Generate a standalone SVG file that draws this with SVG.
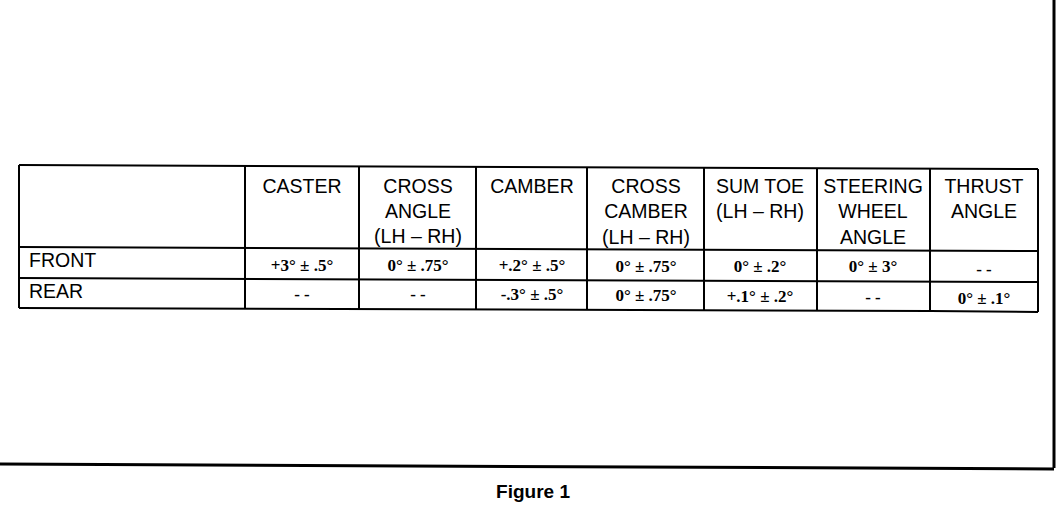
<svg xmlns="http://www.w3.org/2000/svg" width="1056" height="528" viewBox="0 0 1056 528">
<style>
.bg{fill:#fff}
.ln{stroke:#000;stroke-width:2;fill:none}
.fr{stroke:#000;stroke-width:3;fill:none}
.h{font-family:"Liberation Sans",Arial,sans-serif;font-size:19.5px;fill:#000;text-anchor:middle}
.rl{font-family:"Liberation Sans",Arial,sans-serif;font-size:19.5px;fill:#000}
.v{font-family:"Liberation Serif","Times New Roman",serif;font-size:17px;font-weight:bold;fill:#000;text-anchor:middle}
.cap{font-family:"Liberation Sans",Arial,sans-serif;font-size:19px;font-weight:bold;fill:#000;text-anchor:middle}
</style>
<rect class="bg" x="0" y="0" width="1056" height="528"/>
<g id="frame">
<path class="fr" d="M1054 0 L1054 468"/>
<path class="fr" d="M0 464 L1054 469"/>
</g>
<g id="connectors">
<path class="ln" d="M19 165 L1038 169"/>
<path class="ln" d="M19 247 L1038 251"/>
<path class="ln" d="M19 278 L1038 282"/>
<path class="ln" d="M19 308 L930 311"/>
<path class="ln" d="M930 311 L1038 312"/>
<path class="ln" d="M19 165 L19 308"/>
<path class="ln" d="M245 166 L245 309"/>
<path class="ln" d="M359 166 L359 309"/>
<path class="ln" d="M476 167 L476 310"/>
<path class="ln" d="M587 167 L587 310"/>
<path class="ln" d="M704 168 L704 310"/>
<path class="ln" d="M817 168 L817 311"/>
<path class="ln" d="M930 169 L930 312"/>
<path class="ln" d="M1038 169 L1038 312"/>
</g>
<g id="header">
<text class="h" x="302" y="193">CASTER</text>
<text class="h" x="418" y="193">CROSS</text>
<text class="h" x="418" y="218">ANGLE</text>
<text class="h" x="418" y="243">(LH – RH)</text>
<text class="h" x="532" y="193">CAMBER</text>
<text class="h" x="646" y="193">CROSS</text>
<text class="h" x="646" y="218">CAMBER</text>
<text class="h" x="646" y="244">(LH – RH)</text>
<text class="h" x="760" y="193">SUM TOE</text>
<text class="h" x="760" y="218">(LH – RH)</text>
<text class="h" x="873" y="193">STEERING</text>
<text class="h" x="873" y="218">WHEEL</text>
<text class="h" x="873" y="244">ANGLE</text>
<text class="h" x="984" y="193">THRUST</text>
<text class="h" x="984" y="218">ANGLE</text>
</g>
<g id="row-front">
<text class="rl" x="29" y="267">FRONT</text>
<text class="v" x="302" y="271">+3° ± .5°</text>
<text class="v" x="418" y="271">0° ± .75°</text>
<text class="v" x="532" y="271">+.2° ± .5°</text>
<text class="v" x="646" y="272">0° ± .75°</text>
<text class="v" x="760" y="272">0° ± .2°</text>
<text class="v" x="873" y="272">0° ± 3°</text>
<text class="v" x="984" y="275">- -</text>
</g>
<g id="row-rear">
<text class="rl" x="29" y="298">REAR</text>
<text class="v" x="302" y="300">- -</text>
<text class="v" x="418" y="300">- -</text>
<text class="v" x="532" y="300">-.3° ± .5°</text>
<text class="v" x="646" y="301">0° ± .75°</text>
<text class="v" x="760" y="302">+.1° ± .2°</text>
<text class="v" x="873" y="303">- -</text>
<text class="v" x="984" y="304">0° ± .1°</text>
</g>
<g id="caption">
<text class="cap" x="533" y="498">Figure 1</text>
</g>
</svg>
